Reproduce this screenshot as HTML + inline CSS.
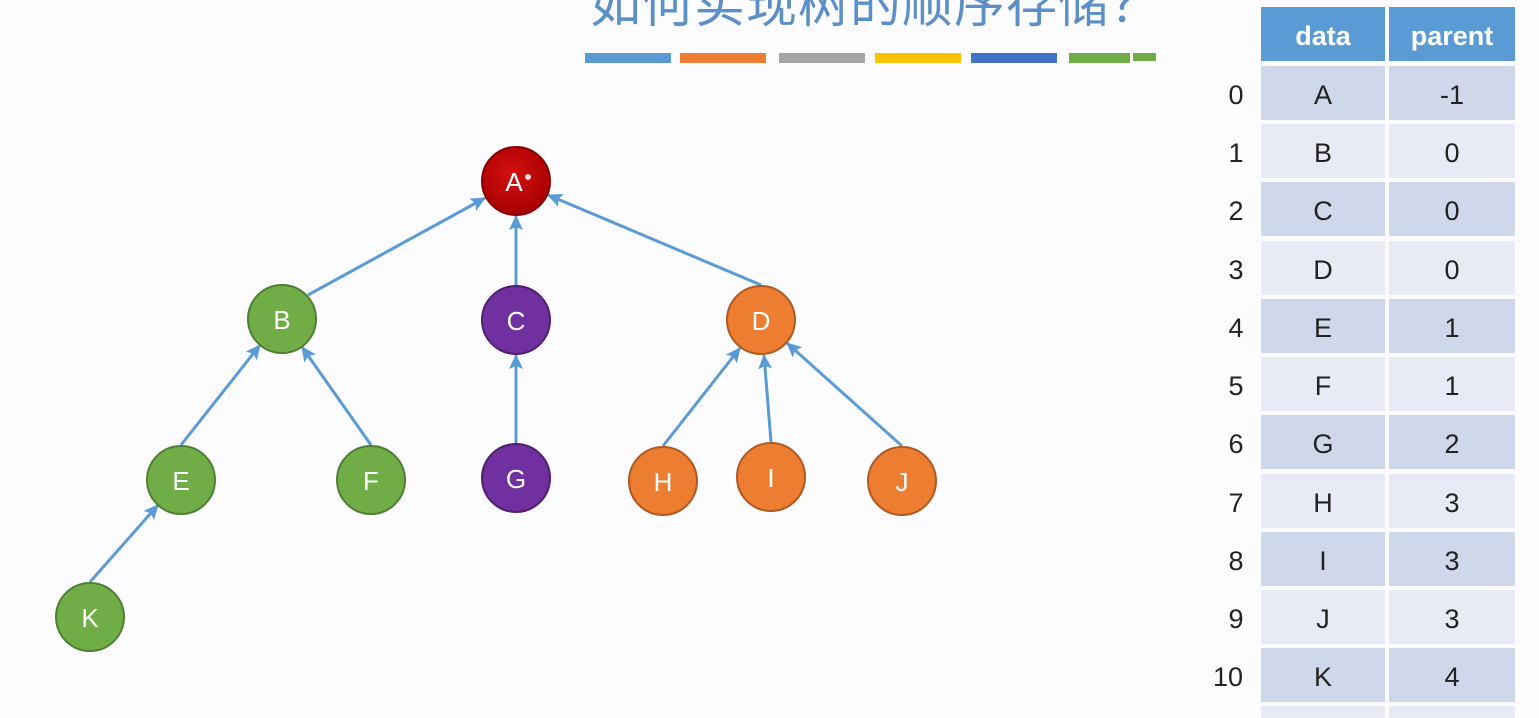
<!DOCTYPE html>
<html><head><meta charset="utf-8"><style>
html,body{margin:0;padding:0;background:#fcfcfe;}
svg{display:block}
text{font-family:"Liberation Sans","Noto Sans CJK SC",sans-serif;}
</style></head><body>
<svg width="1539" height="718" viewBox="0 0 1539 718" xmlns="http://www.w3.org/2000/svg">
<defs>
<marker id="ar" markerUnits="userSpaceOnUse" markerWidth="16" markerHeight="16" refX="14" refY="8" orient="auto">
<path d="M0,1 L15,8 L0,15 L3,8 Z" fill="#5b9bd5"/>
</marker>
<radialGradient id="red" cx="0.45" cy="0.4" r="0.6"><stop offset="0" stop-color="#d41010"/><stop offset="1" stop-color="#a80000"/></radialGradient>
</defs>
<rect width="1539" height="718" fill="#fcfcfe"/>
<text x="590" y="22" font-size="51" letter-spacing="1" fill="#5b8fc5" font-family="Liberation Sans,Noto Sans CJK SC,sans-serif">如何实现树的顺序存储？</text>
<g>
<rect x="585" y="53" width="86" height="10" fill="#5b9bd5"/>
<rect x="680" y="53" width="86" height="10" fill="#ed7d31"/>
<rect x="779" y="53" width="86" height="10" fill="#a5a5a5"/>
<rect x="875" y="53" width="86" height="10" fill="#ffc000"/>
<rect x="971" y="53" width="86" height="10" fill="#4472c4"/>
<rect x="1069" y="53" width="61" height="10" fill="#70ad47"/>
<rect x="1133" y="53" width="23" height="8" fill="#70ad47"/>
</g>
<g stroke="#5b9bd5" stroke-width="3" marker-end="url(#ar)">
<line x1="308" y1="295" x2="485" y2="198"/>
<line x1="516" y1="285" x2="516" y2="216"/>
<line x1="761" y1="285" x2="548" y2="195"/>
<line x1="181" y1="445" x2="260" y2="345"/>
<line x1="371" y1="445" x2="302" y2="347"/>
<line x1="516" y1="443" x2="516" y2="355"/>
<line x1="663" y1="446" x2="740" y2="348"/>
<line x1="771" y1="442" x2="764" y2="355"/>
<line x1="902" y1="446" x2="787" y2="343"/>
<line x1="90" y1="582" x2="158" y2="505"/>
</g>
<g stroke-width="2" text-anchor="middle" fill="#fff">
<circle cx="516" cy="181" r="34" fill="url(#red)" stroke="#8a0000"/>
<circle cx="282" cy="319" r="34" fill="#70ad47" stroke="#4f7f33"/>
<circle cx="516" cy="320" r="34" fill="#7030a0" stroke="#4f2070"/>
<circle cx="761" cy="320" r="34" fill="#ed7d31" stroke="#ae5a22"/>
<circle cx="181" cy="480" r="34" fill="#70ad47" stroke="#4f7f33"/>
<circle cx="371" cy="480" r="34" fill="#70ad47" stroke="#4f7f33"/>
<circle cx="516" cy="478" r="34" fill="#7030a0" stroke="#4f2070"/>
<circle cx="663" cy="481" r="34" fill="#ed7d31" stroke="#ae5a22"/>
<circle cx="771" cy="477" r="34" fill="#ed7d31" stroke="#ae5a22"/>
<circle cx="902" cy="481" r="34" fill="#ed7d31" stroke="#ae5a22"/>
<circle cx="90" cy="617" r="34" fill="#70ad47" stroke="#4f7f33"/>
</g>
<g font-size="26" text-anchor="middle" fill="#fff">
<text x="514" y="191">A</text><circle cx="528" cy="177" r="3" fill="#ffdddd"/>
<text x="282" y="329">B</text>
<text x="516" y="330">C</text>
<text x="761" y="330">D</text>
<text x="181" y="490">E</text>
<text x="371" y="490">F</text>
<text x="516" y="488">G</text>
<text x="663" y="491">H</text>
<text x="771" y="487">I</text>
<text x="902" y="491">J</text>
<text x="90" y="627">K</text>
</g>
<g>
<rect x="1261" y="7" width="124" height="54" fill="#5b9bd5"/>
<rect x="1389" y="7" width="126" height="54" fill="#5b9bd5"/>
<text x="1323" y="45" font-size="27" font-weight="bold" fill="#fff" text-anchor="middle">data</text>
<text x="1452" y="45" font-size="27" font-weight="bold" fill="#fff" text-anchor="middle">parent</text>
</g>
<g font-size="27" text-anchor="middle" fill="#222">
<rect x="1261" y="66" width="124" height="54" fill="#cfd7ea"/><rect x="1389" y="66" width="126" height="54" fill="#cfd7ea"/>
<rect x="1261" y="124" width="124" height="54" fill="#e8ebf5"/><rect x="1389" y="124" width="126" height="54" fill="#e8ebf5"/>
<rect x="1261" y="182" width="124" height="54" fill="#cfd7ea"/><rect x="1389" y="182" width="126" height="54" fill="#cfd7ea"/>
<rect x="1261" y="241" width="124" height="54" fill="#e8ebf5"/><rect x="1389" y="241" width="126" height="54" fill="#e8ebf5"/>
<rect x="1261" y="299" width="124" height="54" fill="#cfd7ea"/><rect x="1389" y="299" width="126" height="54" fill="#cfd7ea"/>
<rect x="1261" y="357" width="124" height="54" fill="#e8ebf5"/><rect x="1389" y="357" width="126" height="54" fill="#e8ebf5"/>
<rect x="1261" y="415" width="124" height="54" fill="#cfd7ea"/><rect x="1389" y="415" width="126" height="54" fill="#cfd7ea"/>
<rect x="1261" y="474" width="124" height="54" fill="#e8ebf5"/><rect x="1389" y="474" width="126" height="54" fill="#e8ebf5"/>
<rect x="1261" y="532" width="124" height="54" fill="#cfd7ea"/><rect x="1389" y="532" width="126" height="54" fill="#cfd7ea"/>
<rect x="1261" y="590" width="124" height="54" fill="#e8ebf5"/><rect x="1389" y="590" width="126" height="54" fill="#e8ebf5"/>
<rect x="1261" y="648" width="124" height="54" fill="#cfd7ea"/><rect x="1389" y="648" width="126" height="54" fill="#cfd7ea"/>
<rect x="1261" y="706" width="124" height="14" fill="#e8ebf5"/><rect x="1389" y="706" width="126" height="14" fill="#e8ebf5"/>

<text x="1236" y="104">0</text><text x="1323" y="104">A</text><text x="1452" y="104">-1</text>
<text x="1236" y="162">1</text><text x="1323" y="162">B</text><text x="1452" y="162">0</text>
<text x="1236" y="220">2</text><text x="1323" y="220">C</text><text x="1452" y="220">0</text>
<text x="1236" y="279">3</text><text x="1323" y="279">D</text><text x="1452" y="279">0</text>
<text x="1236" y="337">4</text><text x="1323" y="337">E</text><text x="1452" y="337">1</text>
<text x="1236" y="395">5</text><text x="1323" y="395">F</text><text x="1452" y="395">1</text>
<text x="1236" y="453">6</text><text x="1323" y="453">G</text><text x="1452" y="453">2</text>
<text x="1236" y="512">7</text><text x="1323" y="512">H</text><text x="1452" y="512">3</text>
<text x="1236" y="570">8</text><text x="1323" y="570">I</text><text x="1452" y="570">3</text>
<text x="1236" y="628">9</text><text x="1323" y="628">J</text><text x="1452" y="628">3</text>
<text x="1228" y="686">10</text><text x="1323" y="686">K</text><text x="1452" y="686">4</text>
</g>
</svg>
</body></html>
